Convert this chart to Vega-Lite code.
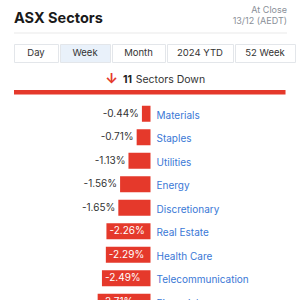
{
  "$schema": "https://vega.github.io/schema/vega-lite/v6.json",
  "background": "white",
  "padding": {"left": 13, "right": 14, "top": 3, "bottom": 0},
  "config": {
    "view": {"stroke": null},
    "font": "Inter",
    "locale": {"number": {"decimal": ".", "thousands": ",", "grouping": [3], "currency": ["$", ""], "minus": "-"}}
  },
  "spacing": 0,
  "vconcat": [
    {
      "width": 273,
      "height": 40,
      "layer": [
        {
          "data": {"values": [{"name": "ASX Sectors"}]},
          "mark": {"type": "text", "align": "left", "baseline": "alphabetic", "fontSize": 14.5, "fontWeight": "bold", "color": "#1a1a1a"},
          "encoding": {"text": {"field": "name", "type": "nominal"}, "x": {"value": 0}, "y": {"value": 20}}
        },
        {
          "data": {"values": [{"line": "At Close"}, {"line": "13/12 (AEDT)"}]},
          "mark": {"type": "text", "align": "right", "baseline": "middle", "fontSize": 9, "color": "#8a8f98"},
          "encoding": {
            "text": {"field": "line", "type": "nominal"},
            "x": {"value": 273},
            "y": {"field": "line", "type": "nominal", "sort": null, "axis": null, "scale": {"range": [1.5, 23.5]}}
          }
        },
        {
          "data": {"values": [{"sep": 1}]},
          "mark": {"type": "rule", "color": "#e9e9e9", "strokeWidth": 1},
          "encoding": {"x": {"value": 0}, "x2": {"value": 273}, "y": {"value": 30}}
        }
      ]
    },
    {
      "data": {"values": [
        {"tab": "Day"}, {"tab": "Week"}, {"tab": "Month"}, {"tab": "2024 YTD"}, {"tab": "52 Week"}
      ]},
      "spacing": 0,
      "hconcat": [
        {
          "width": 44, "height": 18,
          "view": {"stroke": "#e3e6ea", "fill": "#ffffff"},
          "transform": [{"filter": "datum.tab === 'Day'"}],
          "mark": {"type": "text", "fontSize": 9.5, "color": "#333333", "baseline": "middle"},
          "encoding": {"text": {"field": "tab", "type": "nominal"}, "x": {"field": "tab", "type": "nominal", "axis": null}, "y": {"value": 9}}
        },
        {
          "width": 50, "height": 18,
          "view": {"stroke": "#e3e6ea", "fill": "#e9f1fa"},
          "transform": [{"filter": "datum.tab === 'Week'"}],
          "mark": {"type": "text", "fontSize": 9.5, "color": "#333333", "baseline": "middle"},
          "encoding": {"text": {"field": "tab", "type": "nominal"}, "x": {"field": "tab", "type": "nominal", "axis": null}, "y": {"value": 9}}
        },
        {
          "width": 53, "height": 18,
          "view": {"stroke": "#e3e6ea", "fill": "#ffffff"},
          "transform": [{"filter": "datum.tab === 'Month'"}],
          "mark": {"type": "text", "fontSize": 9.5, "color": "#333333", "baseline": "middle"},
          "encoding": {"text": {"field": "tab", "type": "nominal"}, "x": {"field": "tab", "type": "nominal", "axis": null}, "y": {"value": 9}}
        },
        {
          "width": 66, "height": 18,
          "view": {"stroke": "#e3e6ea", "fill": "#ffffff"},
          "transform": [{"filter": "datum.tab === '2024 YTD'"}],
          "mark": {"type": "text", "fontSize": 9.5, "color": "#333333", "baseline": "middle"},
          "encoding": {"text": {"field": "tab", "type": "nominal"}, "x": {"field": "tab", "type": "nominal", "axis": null}, "y": {"value": 9}}
        },
        {
          "width": 60, "height": 18,
          "view": {"stroke": "#e3e6ea", "fill": "#ffffff"},
          "transform": [{"filter": "datum.tab === '52 Week'"}],
          "mark": {"type": "text", "fontSize": 9.5, "color": "#333333", "baseline": "middle"},
          "encoding": {"text": {"field": "tab", "type": "nominal"}, "x": {"field": "tab", "type": "nominal", "axis": null}, "y": {"value": 9}}
        }
      ]
    },
    {
      "width": 273,
      "height": 38.25,
      "data": {"values": [{"down": 11, "unit": "Sectors Down"}]},
      "layer": [
        {
          "mark": {"type": "rect", "color": "#e5392b"},
          "encoding": {
            "x": {"field": "down", "type": "quantitative", "scale": {"domain": [0, 11.06]}, "axis": null},
            "x2": {"datum": 0},
            "y": {"value": 27},
            "y2": {"value": 31.5}
          }
        },
        {
          "mark": {"type": "text", "text": "↓", "color": "#e5392b", "fontSize": 14, "fontWeight": "bold", "baseline": "middle", "align": "center"},
          "encoding": {"x": {"value": 97.7}, "y": {"value": 17}}
        },
        {
          "mark": {"type": "text", "align": "left", "baseline": "middle", "fontSize": 10.5, "fontWeight": "bold", "color": "#222222"},
          "encoding": {"text": {"field": "down", "type": "quantitative"}, "x": {"value": 109}, "y": {"value": 17}}
        },
        {
          "mark": {"type": "text", "align": "left", "baseline": "middle", "fontSize": 10.5, "color": "#333333"},
          "encoding": {"text": {"field": "unit", "type": "nominal"}, "x": {"value": 121.7}, "y": {"value": 17}}
        }
      ]
    },
    {
      "width": 273,
      "height": 200.75,
      "data": {"values": [
        {"sector": "Materials", "change": -0.0044},
        {"sector": "Staples", "change": -0.0071},
        {"sector": "Utilities", "change": -0.0113},
        {"sector": "Energy", "change": -0.0156},
        {"sector": "Discretionary", "change": -0.0165},
        {"sector": "Real Estate", "change": -0.0226},
        {"sector": "Health Care", "change": -0.0229},
        {"sector": "Telecommunication", "change": -0.0249},
        {"sector": "Financials", "change": -0.0271}
      ]},
      "layer": [
        {
          "mark": {"type": "rect", "color": "#e5392b", "clip": true},
          "encoding": {
            "x": {"field": "change", "type": "quantitative", "scale": {"domain": [-0.06326, 0.06372]}, "axis": null},
            "x2": {"datum": 0},
            "y": {"field": "sector", "type": "nominal", "sort": null, "axis": null, "scale": {"range": [0, 211.5], "paddingInner": 0.32, "paddingOuter": 0.16}}
          }
        },
        {
          "transform": [{"filter": "datum.change > -0.02"}],
          "mark": {"type": "text", "align": "right", "baseline": "middle", "dx": -3, "fontSize": 10, "color": "#333333", "clip": true},
          "encoding": {
            "x": {"field": "change", "type": "quantitative"},
            "y": {"field": "sector", "type": "nominal", "sort": null},
            "text": {"field": "change", "type": "quantitative", "format": ".2%"}
          }
        },
        {
          "transform": [{"filter": "datum.change <= -0.02"}],
          "mark": {"type": "text", "align": "left", "baseline": "middle", "dx": 3, "fontSize": 10, "color": "#ffffff", "clip": true},
          "encoding": {
            "x": {"field": "change", "type": "quantitative"},
            "y": {"field": "sector", "type": "nominal", "sort": null},
            "text": {"field": "change", "type": "quantitative", "format": ".2%"}
          }
        },
        {
          "mark": {"type": "text", "align": "left", "baseline": "middle", "dx": 6, "dy": 2, "fontSize": 10, "color": "#3a78d6", "clip": true},
          "encoding": {
            "x": {"datum": 0, "type": "quantitative"},
            "y": {"field": "sector", "type": "nominal", "sort": null},
            "text": {"field": "sector", "type": "nominal"}
          }
        }
      ]
    }
  ]
}
